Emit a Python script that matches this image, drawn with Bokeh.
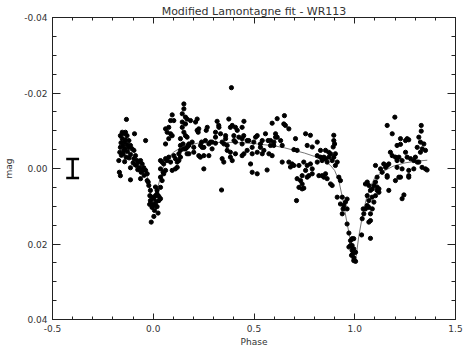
import numpy as np
from bokeh.plotting import figure
from bokeh.models import Range1d, LinearAxis, FixedTicker, PrintfTickFormatter, CustomJSTickFormatter
from bokeh.embed import file_html
from bokeh.resources import INLINE

title_text = "Modified Lamontagne fit - WR113"
x_label = "Phase"
y_label = "mag"

x_major = [-0.5, 0.0, 0.5, 1.0, 1.5]
y_major = [-0.04, -0.02, 0.0, 0.02, 0.04]

# observed points (phase, mag)
phase = [
    -0.133, -0.154, -0.138, -0.146, -0.163, -0.130, -0.093, -0.154, -0.138, -0.121, -0.143, -0.038, -0.130, -0.113,
    -0.163, -0.121, -0.146, -0.105, -0.096, -0.166, -0.149, -0.113, -0.088, -0.171, -0.096, -0.080, -0.072, -0.063,
    -0.055, -0.113, -0.083, -0.067, -0.047, -0.038, -0.060, -0.030, -0.163, -0.113, -0.063, -0.030,
    -0.160, -0.150, -0.140, -0.128, -0.120, -0.135, -0.158, -0.100, -0.090, -0.077, -0.052, -0.045, -0.168, -0.142,
    -0.022, -0.014, -0.017, -0.006, 0.003, -0.014, 0.011, 0.028, -0.0005, -0.006, 0.011, 0.019, 0.006, 0.003, 0.024,
    -0.010, -0.005, 0.011, 0.019, 0.028, 0.019, 0.036, 0.036, -0.025, -0.018, 0.015,
    0.036, 0.044, 0.052, 0.036, 0.049, 0.061, 0.069, 0.077, 0.086, 0.102, 0.110, 0.119, 0.127, 0.135, 0.119, 0.036,
    0.044, 0.052, 0.061, 0.094, 0.110, 0.094, 0.086, 0.077, 0.061, 0.069, 0.086, 0.094, 0.077, 0.061, 0.102, 0.152,
    0.152, 0.144, 0.160, 0.144, 0.144, 0.152, 0.160, 0.135, 0.148, 0.160, 0.168, 0.176, 0.135, 0.127, 0.135, 0.152,
    0.168, 0.177, 0.168,
    0.388, 0.168, 0.160, 0.173, 0.177, 0.218, 0.210, 0.218, 0.223, 0.268, 0.263, 0.317, 0.326, 0.309, 0.375, 0.392,
    0.408, 0.417, 0.450, 0.359, 0.590, 0.240, 0.259, 0.276, 0.292, 0.309, 0.235, 0.251, 0.292, 0.334, 0.342, 0.367,
    0.400, 0.425, 0.441, 0.408, 0.441, 0.474, 0.499, 0.516, 0.508, 0.491, 0.541, 0.557, 0.570, 0.582, 0.599, 0.532,
    0.549, 0.574, 0.590, 0.367, 0.383, 0.408, 0.450, 0.466, 0.342, 0.350, 0.226, 0.251, 0.483, 0.491, 0.516, 0.565,
    0.251, 0.339, 0.193, 0.201, 0.185,
    0.226, 0.325, 0.383, 0.284, 0.309, 0.243, 0.359, 0.351, 0.401, 0.276, 0.234, 0.201, 0.383, 0.392,
    0.441, 0.449, 0.466, 0.582, 0.607, 0.532, 0.441, 0.491, 0.516, 0.541,
    0.651, 0.615, 0.648, 0.656, 0.673, 0.607, 0.615, 0.706, 0.756, 0.780, 0.896, 0.896, 0.900, 0.893, 0.632, 0.640,
    0.598, 0.698, 0.714, 0.764, 0.789, 0.814, 0.830, 0.855, 0.871, 0.880, 0.814, 0.830, 0.838, 0.855, 0.863, 0.896,
    0.913, 0.904, 0.640, 0.673, 0.689, 0.681, 0.723, 0.747, 0.764, 0.780, 0.789, 0.756, 0.772, 0.764, 0.822, 0.847,
    0.855, 0.863, 0.880, 0.888, 0.921, 0.929, 0.714, 0.731, 0.739, 0.723, 0.739, 0.711, 0.747,
    0.698, 0.814, 0.847, 0.872, 0.888, 0.904, 0.739, 0.789, 0.838,
    0.913, 0.938, 0.962, 0.929, 0.946, 0.942, 0.938, 0.954, 0.962, 0.962, 0.971, 0.979, 0.987, 0.995, 0.987, 0.979,
    0.971, 0.987, 0.995, 1.004, 0.991, 0.984, 0.996, 0.995, 1.004,
    1.034, 1.078, 1.037, 1.045, 1.042, 1.062, 1.070, 1.062, 1.078, 1.070, 1.062, 1.053, 1.070, 1.078, 1.087, 1.095,
    1.103, 1.111, 1.120, 1.087, 1.095, 1.103, 1.111, 1.120, 1.053, 1.078, 1.086, 1.070,
    1.169, 1.202, 1.235, 1.244, 1.161, 1.219, 1.268, 1.199, 1.161, 1.186, 1.330, 1.330, 1.268, 1.252, 1.210, 1.227,
    1.318, 1.326, 1.343, 1.335, 1.326, 1.177, 1.186, 1.202, 1.210, 1.252, 1.260, 1.277, 1.293, 1.310, 1.301, 1.144,
    1.161, 1.153, 1.169, 1.128, 1.136, 1.103, 1.210, 1.235, 1.268, 1.293, 1.334, 1.351, 1.359, 1.227, 1.268, 1.161,
    1.227, 1.260, 1.351, 1.310, 1.318, 1.235, 1.219, 1.111,
]
mag = [
    -0.0130, -0.0096, -0.0096, -0.0092, -0.0087, -0.0087, -0.0092, -0.0079, -0.0076, -0.0074, -0.0070, -0.0074, -0.0063, -0.0061,
    -0.0056, -0.0056, -0.0048, -0.0052, -0.0048, -0.0043, -0.0039, -0.0037, -0.0034, -0.0021, -0.0026, -0.0021, -0.0017, -0.0021,
    -0.0012, -0.0002, -0.0008, -0.0002, -0.0002, 0.0005, 0.0010, 0.0014, 0.0019, 0.0030, 0.0027, 0.0032,
    -0.0068, -0.0060, -0.0052, -0.0045, -0.0028, -0.0030, -0.0035, -0.0015, -0.0010, 0.0003, 0.0005, 0.0018, 0.0010, -0.0018,
    0.0045, 0.0058, 0.0072, 0.0076, 0.0080, 0.0085, 0.0072, 0.0074, 0.0094, 0.0103, 0.0098, 0.0101, 0.0111, 0.0127, 0.0118,
    0.0142, 0.0098, 0.0049, 0.0058, 0.0085, 0.0067, 0.0050, 0.0080, 0.0036, 0.0095, 0.0088,
    -0.0021, -0.0017, -0.0012, 0.0001, 0.0010, -0.0026, -0.0021, -0.0030, -0.0017, -0.0034, -0.0026, -0.0017, -0.0021, -0.0030, -0.0003, 0.0023,
    0.0032, 0.0014, 0.0005, 0.0005, 0.0001, -0.0142, -0.0127, -0.0109, -0.0105, -0.0096, -0.0092, -0.0087, -0.0079, -0.0065, -0.0127, -0.0171,
    -0.0158, -0.0145, -0.0136, -0.0123, -0.0109, -0.0096, -0.0087, -0.0079, -0.0065, -0.0052, -0.0056, -0.0061, -0.0048, -0.0039, -0.0061, -0.0052,
    -0.0083, -0.0065, -0.0039,
    -0.0214, -0.0131, -0.0118, -0.0061, -0.0039, -0.0131, -0.0123, -0.0101, -0.0096, -0.0109, -0.0101, -0.0125, -0.0109, -0.0096, -0.0131, -0.0114,
    -0.0109, -0.0101, -0.0125, -0.0087, -0.0120, -0.0070, -0.0074, -0.0065, -0.0070, -0.0067, -0.0061, -0.0056, -0.0052, -0.0092, -0.0070, -0.0061,
    -0.0087, -0.0083, -0.0079, -0.0070, -0.0065, -0.0074, -0.0070, -0.0087, -0.0083, -0.0056, -0.0074, -0.0092, -0.0074, -0.0061, -0.0070, -0.0056,
    -0.0048, -0.0039, -0.0034, -0.0048, -0.0043, -0.0039, -0.0039, -0.0048, -0.0026, -0.0017, -0.0034, -0.0034, -0.0012, 0.0010, 0.0014, 0.0004,
    0.0001, 0.0057, -0.0070, -0.0056, -0.0127,
    -0.0105, -0.0114, -0.0109, -0.0070, -0.0083, -0.0056, -0.0079, -0.0065, -0.0074, -0.0034, -0.0030, -0.0043, -0.0030, -0.0021,
    -0.0109, -0.0087, -0.0074, -0.0074, -0.0083, -0.0065, -0.0034, -0.0039, -0.0043, -0.0039,
    -0.0140, -0.0132, -0.0118, -0.0114, -0.0105, -0.0092, -0.0083, -0.0079, -0.0092, -0.0088, -0.0088, -0.0074, -0.0065, -0.0057, -0.0074, -0.0061,
    -0.0061, -0.0050, -0.0048, -0.0061, -0.0057, -0.0070, -0.0048, -0.0048, -0.0043, -0.0039, -0.0034, -0.0030, -0.0021, -0.0026, -0.0017, -0.0030,
    -0.0017, -0.0039, -0.0017, -0.0017, -0.0012, -0.0004, -0.0008, -0.0017, -0.0008, -0.0012, 0.0001, 0.0005, 0.0019, 0.0023, 0.0019, 0.0023,
    0.0014, 0.0027, 0.0041, 0.0045, 0.0023, 0.0032, 0.0027, 0.0032, 0.0041, 0.0050, 0.0054, 0.0085, 0.0052,
    -0.0008, -0.0017, -0.0030, -0.0030, -0.0021, -0.0008, 0.0019, 0.0014, 0.0019,
    0.0076, 0.0076, 0.0081, 0.0094, 0.0098, 0.0107, 0.0120, 0.0089, 0.0107, 0.0147, 0.0171, 0.0191, 0.0186, 0.0186, 0.0204, 0.0204,
    0.0208, 0.0217, 0.0213, 0.0222, 0.0226, 0.0230, 0.0237, 0.0244, 0.0246,
    0.0176, 0.0185, 0.0133, 0.0120, 0.0107, 0.0098, 0.0085, 0.0072, 0.0058, 0.0045, 0.0036, 0.0041, 0.0142, 0.0120, 0.0107, 0.0089,
    0.0072, 0.0058, 0.0063, 0.0054, 0.0045, 0.0036, 0.0049, 0.0054, 0.0107, 0.0138, 0.0076, 0.0103,
    0.0058, 0.0032, 0.0080, 0.0070, 0.0023, 0.0023, 0.0023, -0.0136, -0.0114, -0.0092, -0.0114, -0.0099, -0.0076, -0.0074, -0.0061, -0.0064,
    -0.0083, -0.0070, -0.0065, -0.0052, -0.0043, -0.0043, -0.0034, -0.0030, -0.0021, -0.0043, -0.0030, -0.0026, -0.0021, -0.0017, -0.0030, -0.0012,
    -0.0008, -0.0003, -0.0012, 0.0001, 0.0010, -0.0008, -0.0003, 0.0001, 0.0005, 0.0001, -0.0003, 0.0001, 0.0004, 0.0023, 0.0019, 0.0019,
    -0.0079, -0.0079, -0.0048, -0.0056, -0.0017, -0.0021, -0.0030, 0.0023,
]

# model fit curve
fit_phase = [-0.035, -0.02, -0.01, 0.0, 0.01, 0.02, 0.035, 0.05, 0.07, 0.10, 0.13, 0.17, 0.22, 0.30, 0.40, 0.45,
             0.50, 0.55, 0.60, 0.65, 0.70, 0.75, 0.80, 0.85, 0.88, 0.90, 0.92, 0.94, 0.96, 0.98, 0.995, 1.005,
             1.02, 1.04, 1.06, 1.08, 1.10, 1.14, 1.19, 1.25, 1.30, 1.36]
fit_mag = [0.0010, 0.0045, 0.0075, 0.0097, 0.0078, 0.0055, 0.0025, -0.0003, -0.0026, -0.0043, -0.0053, -0.0061, -0.0067, -0.0069, -0.0069, -0.0068,
           -0.0066, -0.0063, -0.0060, -0.0055, -0.0048, -0.0041, -0.0032, -0.0020, -0.0008, 0.0005, 0.0030, 0.0080, 0.0140, 0.0195, 0.0240, 0.0240,
           0.0180, 0.0120, 0.0075, 0.0045, 0.0024, 0.0008, -0.0006, -0.0015, -0.0019, -0.0022]

# typical error bar
err_x = [-0.4]
err_sigma = [0.0025]
err_cap = [0.032]

TXT = "#333333"
FONT = "DejaVu Sans"

p = figure(width=471, height=353, output_backend="svg", toolbar_location=None,
           x_range=Range1d(-0.5, 1.5), y_range=Range1d(0.04, -0.04),
           x_axis_type=None, y_axis_type=None,
           min_border_left=52, min_border_right=16, min_border_top=17, min_border_bottom=34)
p.outline_line_color = None
p.background_fill_color = "white"
p.border_fill_color = "white"
p.grid.visible = False

p.title.text = title_text
p.title.align = "center"
p.title.text_font = FONT
p.title.text_font_size = "11px"
p.title.text_font_style = "normal"
p.title.text_color = TXT
p.title.standoff = 0
p.title.offset = 0

x_minor = list(np.round(np.arange(-0.5, 1.5001, 0.1), 2))
y_minor = list(np.round(np.arange(-0.04, 0.04001, 0.005), 3))


def make_axis(kind, labels, tick_major, tick_minor):
    ticker = FixedTicker(ticks=x_major if kind == "x" else y_major,
                         minor_ticks=x_minor if kind == "x" else y_minor)
    ax = LinearAxis(ticker=ticker)
    ax.major_tick_in = tick_major
    ax.major_tick_out = 0
    ax.minor_tick_in = tick_minor
    ax.minor_tick_out = 0
    ax.axis_line_color = "#222222"
    ax.major_tick_line_color = "#222222"
    ax.minor_tick_line_color = "#222222"
    ax.axis_line_width = 1
    if labels:
        ax.formatter = PrintfTickFormatter(format="%.1f" if kind == "x" else "%.2f")
        ax.major_label_text_font = FONT
        ax.major_label_text_font_size = "9px"
        ax.major_label_text_color = TXT
        ax.axis_label_text_font = FONT
        ax.axis_label_text_font_size = "9px"
        ax.axis_label_text_font_style = "normal"
        ax.axis_label_text_color = TXT
    else:
        ax.formatter = CustomJSTickFormatter(code="return ''")
        ax.major_label_standoff = 0
    return ax


xb = make_axis("x", True, 6, 3)
xb.axis_label = x_label
xb.major_label_standoff = 5
xb.axis_label_standoff = 2
p.add_layout(xb, "below")

xt = make_axis("x", False, 6, 3)
p.add_layout(xt, "above")

yl = make_axis("y", True, 8, 4)
yl.axis_label = y_label
yl.major_label_standoff = 5
yl.axis_label_standoff = 7
p.add_layout(yl, "left")

yr = make_axis("y", False, 8, 4)
p.add_layout(yr, "right")

# fit curve
p.line(fit_phase, fit_mag, line_color="#666666", line_width=0.9)

# data points
p.scatter(phase, mag, size=4.2, fill_color="black", line_color="black")

# error bar
ex = np.array(err_x)
es = np.array(err_sigma)
ec = np.array(err_cap)
p.segment(x0=ex, y0=-es, x1=ex, y1=es, line_color="black", line_width=2.5)
p.segment(x0=ex - ec, y0=-es, x1=ex + ec, y1=-es, line_color="black", line_width=2.5)
p.segment(x0=ex - ec, y0=es, x1=ex + ec, y1=es, line_color="black", line_width=2.5)

open("out.html", "w").write(file_html(p, INLINE))
